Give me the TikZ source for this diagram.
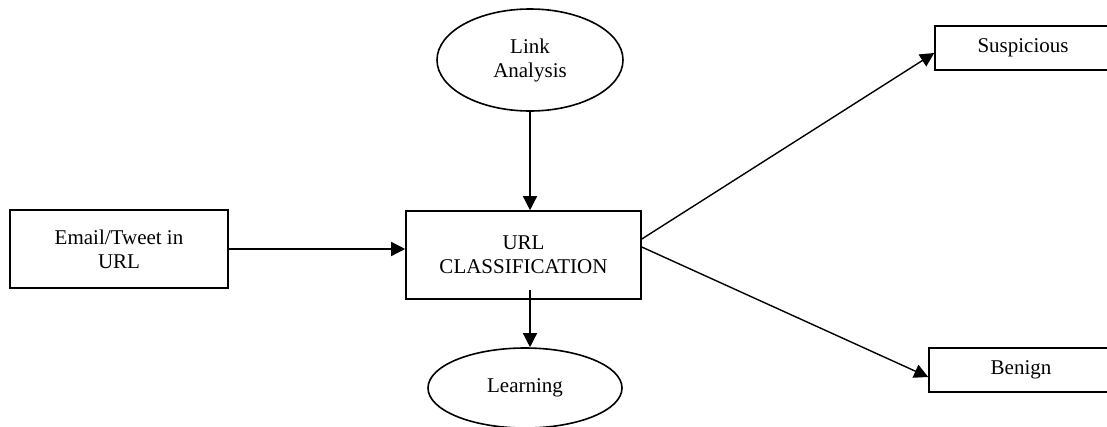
\documentclass[tikz,border=0pt]{standalone}
\usepackage{fontspec}
\setmainfont{Liberation Serif}
\usetikzlibrary{positioning, arrows.meta, shapes.geometric}

\begin{document}
\begin{tikzpicture}[x=1pt, y=-1pt,
    box/.style={draw, line width=1.6pt, inner sep=0pt, align=center, font=\fontsize{21}{24}\selectfont},
    oval/.style={ellipse, draw, line width=1.6pt, inner sep=0pt, align=center, font=\fontsize{21}{24}\selectfont},
    arr/.style={line width=1.4pt, -{Triangle[length=14pt, width=14pt]}}]
    \useasboundingbox (0,0) rectangle (1107,426);
    \clip (0,0) rectangle (1107,426);
    % nodes
    \node[box, minimum width=218pt, minimum height=78pt] (email) at (119,249) {Email/Tweet in\\URL};
    \node[box, minimum width=235pt, minimum height=88pt] (url) at (523.5,255) {URL\\CLASSIFICATION};
    \node[oval, minimum width=186pt, minimum height=102pt] (link) at (530,60) {Link\\Analysis};
    \node[oval, minimum width=194pt, minimum height=80pt] (learn) at (525,388) {Learning};
    \node[box, minimum width=176pt, minimum height=44pt] (susp) at (1023,48) {Suspicious};
    \node[box, minimum width=184pt, minimum height=44pt] (benign) at (1021,370) {Benign};
    % connectors
    \draw[arr] (email.east) -- (email.east -| url.west);
    \draw[arr] (link.south) -- (link.south |- url.north);
    \draw[arr] ([xshift=6.5pt, yshift=10pt]url.south) -- ([xshift=5pt]learn.north);
    \draw[arr] ([yshift=16pt]url.east) -- ([yshift=-5pt]susp.west);
    \draw[arr] ([yshift=8pt]url.east) -- ([yshift=-7pt]benign.west);
\end{tikzpicture}
\end{document}
